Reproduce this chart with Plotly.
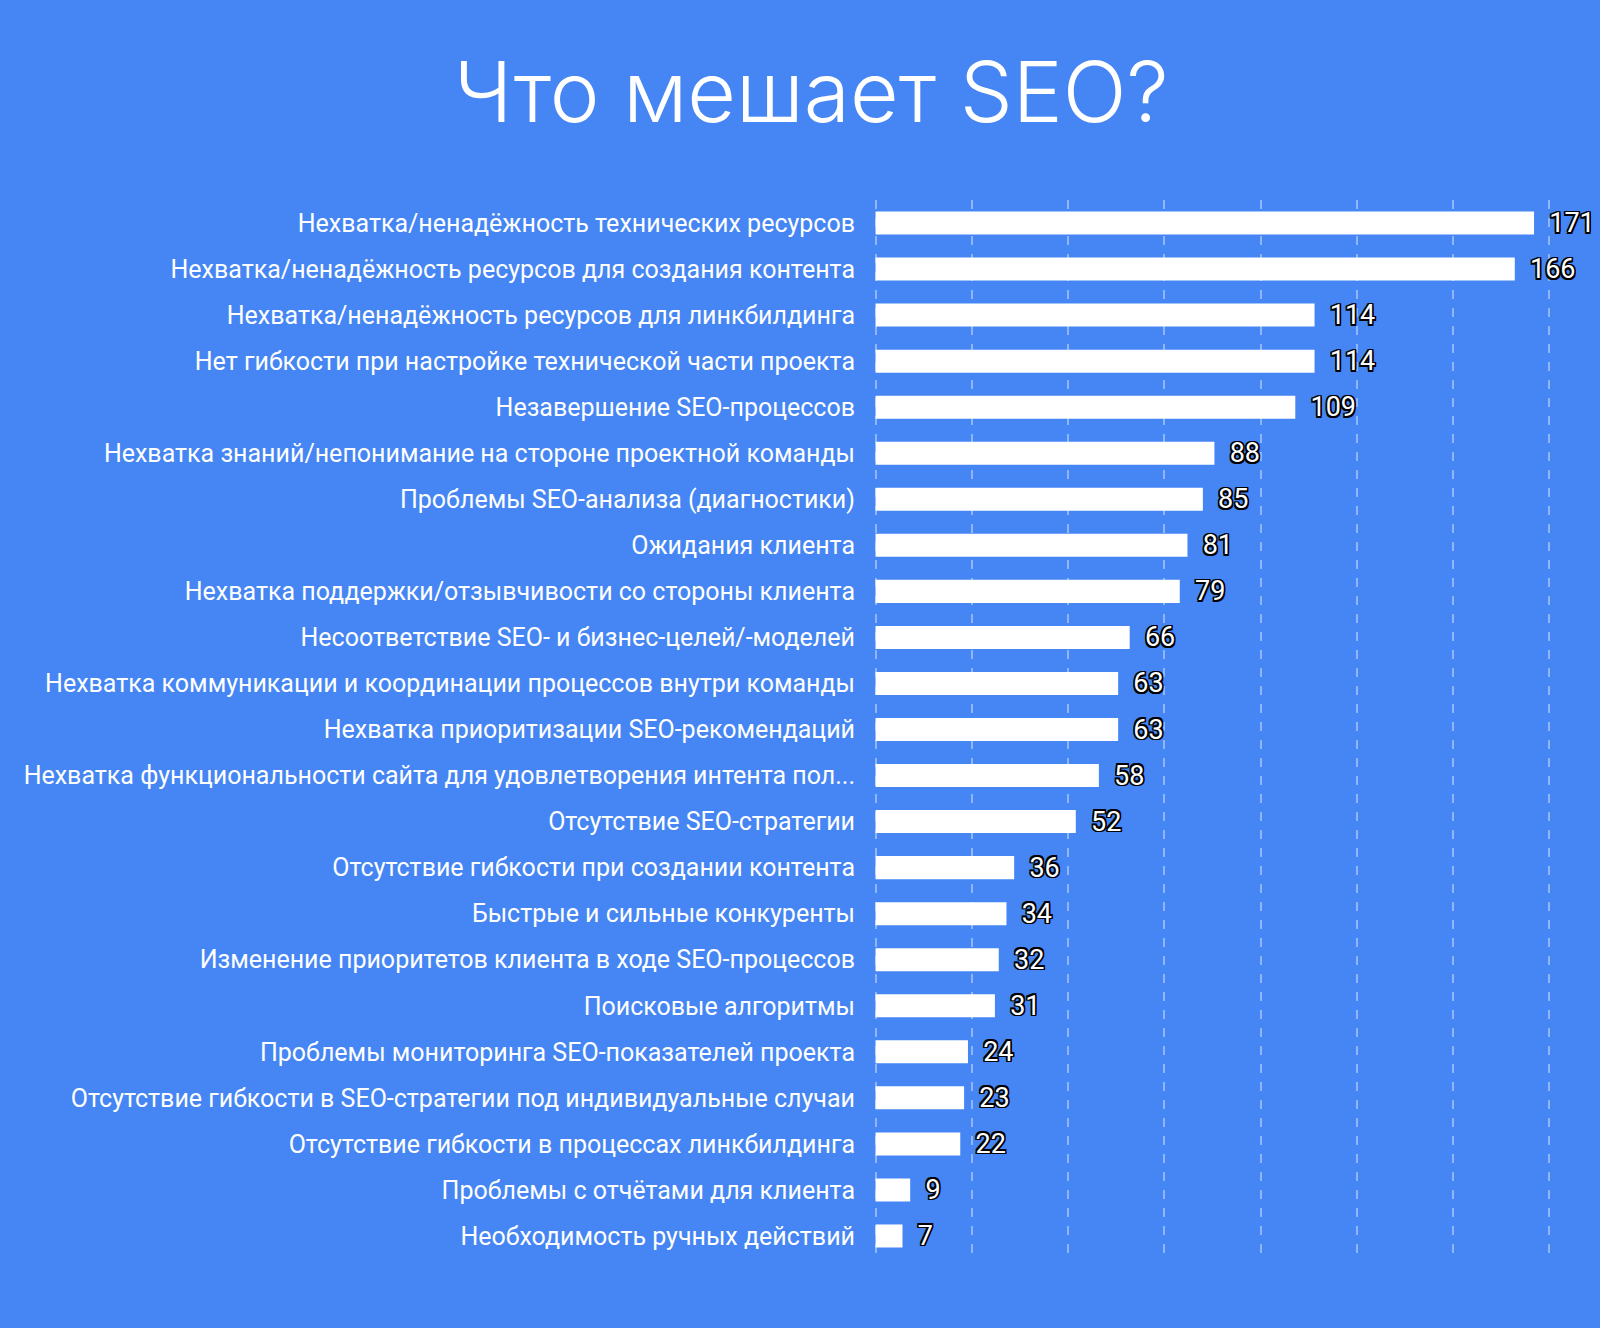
import plotly.graph_objects as go

categories = [
    "Нехватка/ненадёжность технических ресурсов",
    "Нехватка/ненадёжность ресурсов для создания контента",
    "Нехватка/ненадёжность ресурсов для линкбилдинга",
    "Нет гибкости при настройке технической части проекта",
    "Незавершение SEO-процессов",
    "Нехватка знаний/непонимание на стороне проектной команды",
    "Проблемы SEO-анализа (диагностики)",
    "Ожидания клиента",
    "Нехватка поддержки/отзывчивости со стороны клиента",
    "Несоответствие SEO- и бизнес-целей/-моделей",
    "Нехватка коммуникации и координации процессов внутри команды",
    "Нехватка приоритизации SEO-рекомендаций",
    "Нехватка функциональности сайта для удовлетворения интента пол...",
    "Отсутствие SEO-стратегии",
    "Отсутствие гибкости при создании контента",
    "Быстрые и сильные конкуренты",
    "Изменение приоритетов клиента в ходе SEO-процессов",
    "Поисковые алгоритмы",
    "Проблемы мониторинга SEO-показателей проекта",
    "Отсутствие гибкости в SEO-стратегии под индивидуальные случаи",
    "Отсутствие гибкости в процессах линкбилдинга",
    "Проблемы с отчётами для клиента",
    "Необходимость ручных действий",
]
values = [171, 166, 114, 114, 109, 88, 85, 81, 79, 66, 63, 63, 58, 52, 36, 34, 32, 31, 24, 23, 22, 9, 7]
x_ticks = [0, 25, 50, 75, 100, 125, 150, 175]

BG = "#4586f4"
# black outline round the white value labels
outline = ("-1.5px -1.5px 0 #000, 1.5px -1.5px 0 #000, -1.5px 1.5px 0 #000, "
           "1.5px 1.5px 0 #000, 0 -1.5px 0 #000, 0 1.5px 0 #000, -1.5px 0 0 #000, 1.5px 0 0 #000")

fig = go.Figure()

fig.add_trace(go.Bar(
    x=values,
    y=categories,
    orientation="h",
    width=0.5,
    marker=dict(color="#ffffff", line=dict(width=0)),
    text=["\u2009 " + str(v) for v in values],
    textposition="outside",
    constraintext="none",
    cliponaxis=False,
    textfont=dict(family="Liberation Sans Narrow, Roboto", size=27, color="#ffffff", shadow=outline),
))

fig.update_layout(
    width=1600,
    height=1328,
    font_family="Roboto",
    title=dict(
        text="Что мешает SEO?",
        font=dict(family="Inter", size=84, color="#ffffff", weight=300),
        x=0.507,
        xanchor="center",
        y=0.93,
        yanchor="middle",
    ),
    xaxis=dict(
        range=[-0.4, 178],
        tickvals=x_ticks,
        showticklabels=False,
        showgrid=True,
        gridcolor="rgba(255,255,255,0.4)",
        griddash="dash",
        gridwidth=2,
        zeroline=False,
        showline=False,
    ),
    yaxis=dict(
        autorange="reversed",
        showgrid=False,
        showline=False,
        ticks="",
        ticklabelstandoff=18,
        tickfont=dict(family="Roboto", size=25, color="#ffffff"),
    ),
    bargap=0.5,
    showlegend=False,
    margin=dict(l=874, r=39, t=200, b=69),
    plot_bgcolor=BG,
    paper_bgcolor=BG,
)

fig.write_html(
    "out.html",
    config={"displayModeBar": False},
    post_script="document.body.style.margin='0';document.body.style.background='%s';" % BG,
)
